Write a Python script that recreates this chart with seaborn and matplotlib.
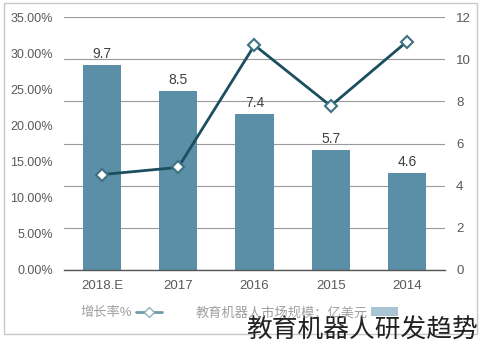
import matplotlib
matplotlib.use("Agg")
import matplotlib.pyplot as plt
from matplotlib.patches import Rectangle, Patch
from matplotlib.lines import Line2D
from matplotlib.ticker import FuncFormatter, MultipleLocator
import seaborn as sns
import pandas as pd

# Data (layout follows the reference: 2018.E on the left, 2014 on the right)
years = ["2018.E", "2017", "2016", "2015", "2014"]
market_size = [9.7, 8.5, 7.4, 5.7, 4.6]          # 亿美元
growth_rate = [13.2, 14.2, 31.1, 22.7, 31.6]     # %
bar_label_name = "教育机器人市场规模：亿美元"
line_label_name = "增长率%"
watermark = "教育机器人研发趋势"

sns.set_theme(style="white")
plt.rcParams["font.family"] = ["Liberation Sans", "Noto Sans CJK SC", "DejaVu Sans"]

df = pd.DataFrame({"year": years, "size": market_size, "rate": growth_rate})

BAR = "#5b8fa7"
LINE = "#1b4f5f"
TICK = "#595959"

fig = plt.figure(figsize=(4.81, 3.44), dpi=100)
ax = fig.add_axes([64 / 481, 74 / 344, 381 / 481, 253 / 344])

sns.barplot(data=df, x="year", y="size", order=years, color=BAR, width=0.5,
            saturation=1, ax=ax, zorder=2, edgecolor="none")
ax.bar_label(ax.containers[0], labels=[f"{v:.1f}" for v in market_size],
             padding=3, fontsize=10, color="#404040")

ax2 = ax.twinx()
sns.pointplot(data=df, x="year", y="rate", order=years, color=LINE, ax=ax2,
              markers="D", linewidth=2.0, markersize=6.5, errorbar=None)
for coll in ax2.collections:
    coll.set_facecolor("white")
    coll.set_edgecolor("#3d7282")
    coll.set_linewidth(0.9)
    coll.set_zorder(5)
for ln in ax2.lines:
    ln.set_markerfacecolor("white")
    ln.set_markeredgecolor("#3d7282")

# bar (value) axis on the right
ax.set_ylim(0, 12)
ax.yaxis.set_major_locator(MultipleLocator(2))
ax.grid(axis="y", color="#9a9a9a", lw=0.8, zorder=0)
ax.set_axisbelow(True)
ax.set_xlabel("")
ax.set_ylabel("")
for s in ["top", "left", "right"]:
    ax.spines[s].set_visible(False)
ax.spines["bottom"].set_color("#555555")
ax.spines["bottom"].set_linewidth(1.0)
ax.tick_params(axis="y", length=0, pad=8, labelsize=9.5, labelcolor=TICK,
               left=False, right=False, labelright=True, labelleft=False)
ax.tick_params(axis="x", length=0, pad=7, labelsize=9.5, labelcolor=TICK)

# percentage axis on the left
ax2.set_ylim(0, 35)
ax2.set_xlim(-0.5, 4.5)
ax2.yaxis.set_major_locator(MultipleLocator(5))
ax2.yaxis.set_major_formatter(FuncFormatter(lambda v, p: f"{v:.2f}%"))
ax2.tick_params(axis="y", length=0, pad=8, labelsize=9, labelcolor=TICK,
                left=False, labelleft=True, right=False, labelright=False)
ax2.set_ylabel("")
ax2.set_xlabel("")
for s in ["top", "left", "right", "bottom"]:
    ax2.spines[s].set_visible(False)
ax.set_xlim(-0.5, 4.5)

handles = [
    Line2D([0], [0], color="#6f9aa8", lw=2, marker="D", markersize=5,
           markerfacecolor="white", markeredgecolor="#8fb0bb"),
    Patch(facecolor="#a9c4d2", edgecolor="none"),
]
leg = fig.legend(handles, [line_label_name, bar_label_name], loc="center",
                 bbox_to_anchor=(239 / 481, 31 / 344), ncol=2, frameon=False,
                 markerfirst=False, fontsize=9.5, columnspacing=2.5,
                 handlelength=2.0, handletextpad=0.3)
for t in leg.get_texts():
    t.set_color("#a0a0a0")

fig.text(478 / 481, 13 / 344, watermark, ha="right", va="center",
         fontsize=18.5, color="#222222", family=["Noto Sans CJK SC"])

fig.patches.append(Rectangle((4 / 481, 10 / 344), 473 / 481, 331 / 344,
                             transform=fig.transFigure, fill=False,
                             edgecolor="#c8c8c8", lw=1.0, zorder=0))

fig.savefig("out.png", dpi=100)
